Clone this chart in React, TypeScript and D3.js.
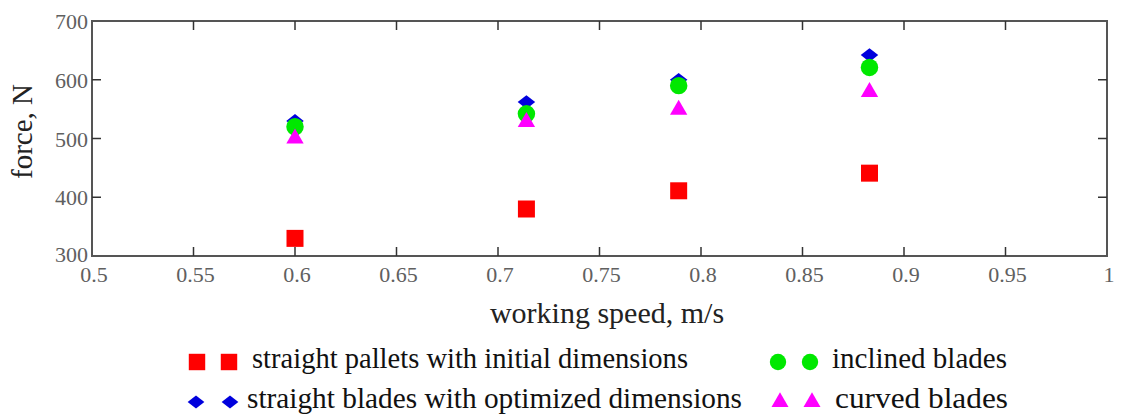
import React, { useEffect, useRef } from 'react';
import * as d3 from 'd3';

const speeds = [0.6, 0.714, 0.789, 0.883];
const straightInitial = [330, 380, 411, 441];
const straightOptimized = [530, 562, 600, 642];
const inclined = [520, 542, 590, 621];
const curved = [500, 528, 549, 579];
const xTicks = [0.5, 0.55, 0.6, 0.65, 0.7, 0.75, 0.8, 0.85, 0.9, 0.95, 1];
const yTicks = [300, 400, 500, 600, 700];
const legendNames = [
  'straight pallets with initial dimensions',
  'straight blades with optimized dimensions',
  'inclined blades',
  'curved blades',
];

// flat diamond, wider than tall
const flatDiamond = {
  draw(ctx: any, size: number) {
    const w = Math.sqrt(size / 1.5);
    const h = w * 0.78;
    ctx.moveTo(0, -h);
    ctx.lineTo(w, 0);
    ctx.lineTo(0, h);
    ctx.lineTo(-w, 0);
    ctx.closePath();
  },
};

const series = [
  { name: legendNames[0], values: straightInitial, color: '#ff0000', symbol: d3.symbolSquare, size: 289, legendSize: 270 },
  { name: legendNames[1], values: straightOptimized, color: '#0000dd', symbol: flatDiamond, size: 115, legendSize: 105 },
  { name: legendNames[2], values: inclined, color: '#00e800', symbol: d3.symbolCircle, size: 240, legendSize: 210 },
  { name: legendNames[3], values: curved, color: '#ff00ff', symbol: d3.symbolTriangle, size: 130, legendSize: 125 },
];

function App() {
  const ref = useRef<SVGSVGElement>(null);

  useEffect(() => {
    const svg = d3.select(ref.current);
    svg.selectAll('*').remove();
    const font = 'Liberation Serif, Times New Roman, serif';

    const left = 92, right = 1107, top = 21, bottom = 256;
    const x = d3.scaleLinear().domain([0.5, 1]).range([left, right]);
    const y = d3.scaleLinear().domain([300, 700]).range([bottom, top]);

    const axisColor = '#555';

    // frame
    svg.append('rect')
      .attr('x', left).attr('y', top)
      .attr('width', right - left).attr('height', bottom - top)
      .attr('fill', 'none').attr('stroke', axisColor).attr('stroke-width', 2);

    // ticks inside, on all sides
    const tickLen = 9;
    const g = svg.append('g').attr('stroke', '#333').attr('stroke-width', 1.5);
    xTicks.slice(1, -1).forEach(t => {
      g.append('line').attr('x1', x(t)).attr('x2', x(t)).attr('y1', bottom).attr('y2', bottom - tickLen);
      g.append('line').attr('x1', x(t)).attr('x2', x(t)).attr('y1', top).attr('y2', top + tickLen);
    });
    yTicks.slice(1, -1).forEach(t => {
      g.append('line').attr('x1', left).attr('x2', left + tickLen).attr('y1', y(t)).attr('y2', y(t));
      g.append('line').attr('x1', right).attr('x2', right - tickLen).attr('y1', y(t)).attr('y2', y(t));
    });

    // tick labels
    svg.append('g').selectAll('text').data(xTicks).enter().append('text')
      .attr('x', d => x(d) + 2).attr('y', bottom + 26)
      .attr('text-anchor', 'middle')
      .attr('font-family', font).attr('font-size', 22).attr('fill', '#606060')
      .text(d => String(d));

    svg.append('g').selectAll('text').data(yTicks).enter().append('text')
      .attr('x', left - 4).attr('y', d => y(d) + 8 - (d === 300 ? 2 : 0))
      .attr('text-anchor', 'end')
      .attr('font-family', font).attr('font-size', 22).attr('fill', '#606060')
      .text(d => String(d));

    // axis titles
    svg.append('text')
      .attr('x', 607).attr('y', 323)
      .attr('text-anchor', 'middle')
      .attr('font-family', font).attr('font-size', 30).attr('fill', '#222')
      .text('working speed, m/s');

    svg.append('text')
      .attr('transform', `translate(32,${(top + bottom) / 2 - 7}) rotate(-90)`)
      .attr('text-anchor', 'middle')
      .attr('font-family', font).attr('font-size', 29).attr('fill', '#222')
      .text('force, N');

    // points
    series.forEach(s => {
      svg.append('g').selectAll('path').data(s.values).enter().append('path')
        .attr('d', d3.symbol().type(s.symbol as any).size(s.size)())
        .attr('transform', (d, i) => `translate(${x(speeds[i])},${y(d)})`)
        .attr('fill', s.color);
    });

    // legend
    const legendPos = [
      { mx: [197, 229], tx: 252, ty: 368, w: 436 },
      { mx: [196, 230], tx: 247, ty: 408, w: 495 },
      { mx: [778, 810], tx: 832, ty: 368, w: 175 },
      { mx: [780, 812], tx: 835, ty: 408, w: 173 },
    ];
    series.forEach((s, i) => {
      const p = legendPos[i];
      p.mx.forEach(mx => {
        svg.append('path')
          .attr('d', d3.symbol().type(s.symbol as any).size(s.legendSize)())
          .attr('transform', `translate(${mx},${p.ty - 6})`)
          .attr('fill', s.color);
      });
      svg.append('text')
        .attr('x', p.tx).attr('y', p.ty)
        .attr('font-family', font).attr('font-size', 29).attr('fill', '#111')
        .attr('textLength', p.w).attr('lengthAdjust', 'spacingAndGlyphs')
        .text(s.name);
    });
  }, []);

  return (
    <div style={{ position: 'absolute', left: 0, top: 0 }}>
      <svg ref={ref} width={1128} height={420} style={{ display: 'block', background: '#fff' }}></svg>
    </div>
  );
}

export default App;
